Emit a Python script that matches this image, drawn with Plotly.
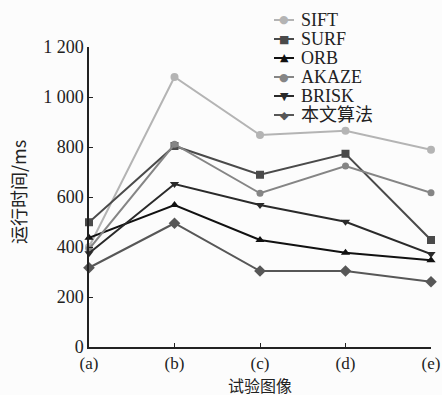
import plotly.graph_objects as go

categories = ["(a)", "(b)", "(c)", "(d)", "(e)"]
sift = [400, 1080, 848, 865, 789]
surf = [499, 804, 689, 773, 428]
orb = [437, 568, 428, 377, 347]
akaze = [392, 811, 615, 724, 617]
brisk = [375, 652, 568, 501, 372]
ours = [317, 495, 304, 304, 261]
ytick_vals = [0, 200, 400, 600, 800, 1000, 1200]
ytick_text = ["0", "200", "400", "600", "800", "1 000", "1 200"]
x_title = "试验图像"
y_title = "运行时间/ms"

series = [
    ("SIFT", sift, "#b4b4b4", "circle", 8, "●"),
    ("SURF", surf, "#4a4a4a", "square", 8, "■"),
    ("ORB", orb, "#111111", "triangle-up", 8, "▲"),
    ("AKAZE", akaze, "#858585", "circle", 7, "●"),
    ("BRISK", brisk, "#2a2a2a", "triangle-down", 8, "▼"),
    ("本文算法", ours, "#575757", "diamond", 9, "◆"),
]

W, H = 442, 395
L, R, T, B = 89, 11, 47, 48
PW, PH = W - L - R, H - T - B


def px_x(px):
    return (px - L) / PW


def px_y(py):
    return (H - B - py) / PH


font_serif = "Liberation Serif"
fig = go.Figure()
# custom compact legend geometry (pixels)
leg_x0, leg_x1, leg_text_x, leg_y0, leg_step = 274, 294, 299, 20, 19
for i, (name, vals, color, sym, size, glyph) in enumerate(series):
    fig.add_trace(go.Scatter(
        x=categories, y=vals, name=name, mode="lines+markers",
        line=dict(color=color, width=2),
        marker=dict(symbol=sym, size=size, color=color),
        cliponaxis=False, showlegend=False,
    ))
    yy = px_y(leg_y0 + i * leg_step)
    fig.add_shape(type="line", xref="paper", yref="paper",
                  x0=px_x(leg_x0), x1=px_x(leg_x1), y0=yy, y1=yy,
                  line=dict(color=color, width=2))
    fig.add_annotation(xref="paper", yref="paper", x=px_x((leg_x0 + leg_x1) / 2), y=yy,
                       text=glyph, showarrow=False, xanchor="center", yanchor="middle",
                       font=dict(size=11, color=color, family="DejaVu Sans"))
    fig.add_annotation(xref="paper", yref="paper", x=px_x(leg_text_x), y=yy,
                       text=name, showarrow=False, xanchor="left", yanchor="middle",
                       font=dict(size=18, color="#222222",
                                 family=font_serif + ", Noto Sans CJK SC"))

# axis titles
fig.add_annotation(xref="paper", yref="paper", x=px_x(260), y=px_y(385),
                   text=x_title, showarrow=False, xanchor="center", yanchor="middle",
                   font=dict(size=16, color="#222222", family="Noto Sans CJK SC"))
fig.add_annotation(xref="paper", yref="paper", x=px_x(18), y=px_y(192),
                   text=y_title, showarrow=False, xanchor="center", yanchor="middle",
                   textangle=-90,
                   font=dict(size=18, color="#222222", family="Noto Sans CJK SC"))

fig.update_layout(
    width=W, height=H,
    margin=dict(l=L, r=R, t=T, b=B, autoexpand=False),
    paper_bgcolor="#fcfcfc", plot_bgcolor="#fcfcfc",
    font=dict(family=font_serif, size=18, color="#222222"),
    showlegend=False,
    xaxis=dict(
        type="category", range=[0, 4], showline=True, linecolor="#222222",
        linewidth=1.5, ticks="inside", ticklen=4, tickcolor="#222222",
        showgrid=False, zeroline=False,
        tickfont=dict(size=17, family=font_serif),
    ),
    yaxis=dict(
        range=[0, 1200], tickvals=ytick_vals, ticktext=ytick_text,
        showline=True, linecolor="#222222", linewidth=1.5,
        ticks="inside", ticklen=4, tickcolor="#222222",
        showgrid=False, zeroline=False,
        tickfont=dict(size=18, family=font_serif),
    ),
)

fig.write_html("out.html", config={"displayModeBar": False},
               post_script="document.body.style.margin='0px';")
